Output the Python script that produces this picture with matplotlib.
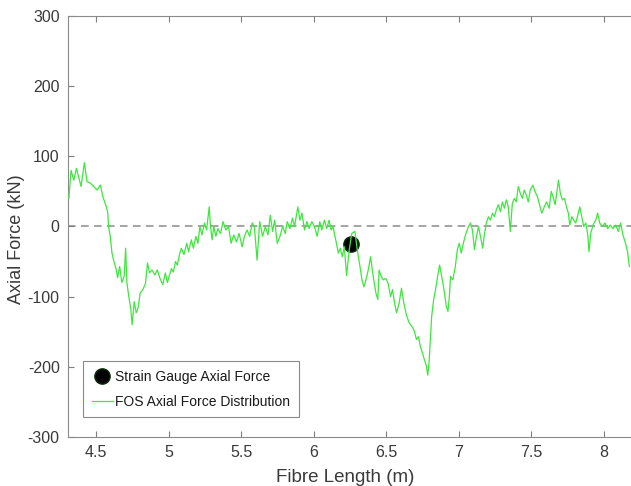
import matplotlib
matplotlib.use("Agg")
import matplotlib.pyplot as plt

# FOS axial force distribution
fos_length = [
    4.313, 4.328, 4.347, 4.365, 4.381, 4.397, 4.420, 4.438, 4.461, 4.484,
    4.507, 4.530, 4.548, 4.571, 4.580, 4.587, 4.598, 4.610, 4.621, 4.640,
    4.649, 4.663, 4.678, 4.694, 4.704, 4.713, 4.726, 4.740, 4.749, 4.763,
    4.777, 4.790, 4.804, 4.823, 4.841, 4.855, 4.869, 4.886, 4.905, 4.923,
    4.941, 4.960, 4.978,
    4.992, 5.005, 5.020, 5.033, 5.048, 5.060, 5.075, 5.088, 5.106, 5.125,
    5.138, 5.157, 5.171, 5.188, 5.202, 5.216, 5.230, 5.248, 5.262, 5.280,
    5.289, 5.300, 5.312, 5.326, 5.339, 5.358, 5.376, 5.394, 5.413, 5.431,
    5.449, 5.468, 5.486, 5.507, 5.523, 5.541, 5.559, 5.576, 5.591, 5.610,
    5.628,
    5.648, 5.667, 5.685, 5.701, 5.717, 5.731, 5.749, 5.768, 5.786, 5.804,
    5.818, 5.836, 5.854, 5.868, 5.891, 5.905, 5.919, 5.937, 5.953, 5.969,
    5.987, 6.005, 6.024, 6.042, 6.056, 6.074, 6.090, 6.106, 6.120, 6.133,
    6.152, 6.170, 6.184, 6.197, 6.211, 6.227, 6.243,
    6.262, 6.284, 6.300, 6.319, 6.333, 6.346, 6.360, 6.376, 6.392, 6.410,
    6.429, 6.442, 6.451, 6.465, 6.479, 6.497, 6.513, 6.530, 6.543, 6.557,
    6.571, 6.589, 6.605, 6.621, 6.639, 6.657, 6.676, 6.694, 6.708, 6.722,
    6.735, 6.749, 6.763, 6.777, 6.786, 6.795, 6.804, 6.813, 6.827, 6.840,
    6.854, 6.868, 6.882, 6.895, 6.914, 6.925, 6.935,
    6.943, 6.959, 6.976, 6.990, 7.003, 7.017, 7.031, 7.049, 7.067, 7.081,
    7.094, 7.108, 7.122, 7.136, 7.149, 7.165, 7.177, 7.190, 7.204, 7.218,
    7.232, 7.245, 7.259, 7.273, 7.287, 7.300, 7.314, 7.328, 7.341, 7.355,
    7.369, 7.383, 7.396, 7.410, 7.424, 7.438, 7.451, 7.465, 7.479, 7.492,
    7.511, 7.525, 7.543,
    7.560, 7.572, 7.589, 7.605, 7.623, 7.637, 7.650, 7.664, 7.678, 7.687,
    7.700, 7.714, 7.728, 7.742, 7.755, 7.765, 7.779, 7.792, 7.806, 7.820,
    7.834, 7.847, 7.861, 7.875, 7.889, 7.897, 7.909, 7.925, 7.943, 7.957,
    7.971, 7.989, 8.007, 8.026, 8.044, 8.062, 8.081, 8.099, 8.115, 8.131,
    8.149, 8.163, 8.175,
]
fos_force = [
    40, 80, 66, 83, 70, 57, 91, 64, 62, 57,
    52, 59, 42, 28, 21, 0, -14, -38, -48, -62,
    -73, -57, -80, -71, -31, -80, -100, -118, -140, -107,
    -123, -116, -95, -90, -81, -52, -66, -62, -69, -62,
    -74, -83, -66,
    -80, -70, -60, -65, -50, -55, -40, -31, -40, -24,
    -36, -19, -31, -14, -24, 0, -12, 5, -5, 28,
    0, -19, 0, -14, -3, -10, 7, -5, 0, -24,
    -12, -22, -10, -29, -14, -5, -14, 5, 0, -48,
    7,
    -14, 0, -12, 16, -7, 9, -24, -14, 0, -10,
    7, -3, 12, 0, 28, 9, 19, -5, 7, -3,
    7, 0, -14, 7, -5, 9, -3, 9, -5, 0,
    -19, -38, -31, -43, -29, -70, -36,
    -10, -7, -33, -57, -76, -86, -76, -62, -43, -71,
    -95, -104, -62, -71, -76, -74, -81, -100, -90, -109,
    -123, -109, -88, -109, -126, -137, -142, -149, -161, -157,
    -171, -180, -190, -199, -212, -194, -161, -128, -104, -90,
    -71, -55, -71, -86, -114, -121, -100,
    -71, -76, -57, -33, -24, -38, -24, -10, 0, 5,
    -5, -33, -14, 0, -14, -31, -10, 5, 14, 9,
    19, 14, 24, 31, 21, 35, 26, 38, 28, -7,
    33, 40, 35, 57, 47, 40, 52, 45, 35, 52,
    59, 50, 42,
    28, 19, 28, 35, 26, 50, 42, 31, 52, 66,
    47, 38, 40, 28, 19, 2, 14, 9, 5, 16,
    28, 14, 0, 5, -12, -36, -10, 2, 9, 19,
    5, 0, 5, -3, 2, -3, 2, -7, 5, -12,
    -24, -36, -57,
]

# strain gauge reading
sg_length = [6.26]
sg_force = [-25]

x_ticks = [4.5, 5, 5.5, 6, 6.5, 7, 7.5, 8]
x_tick_labels = ["4.5", "5", "5.5", "6", "6.5", "7", "7.5", "8"]
y_ticks = [-300, -200, -100, 0, 100, 200, 300]

plt.rcParams['font.family'] = ['Liberation Sans', 'DejaVu Sans']
plt.rcParams['axes.unicode_minus'] = False

fig = plt.figure(figsize=(6.31, 4.86), dpi=100)
ax = fig.add_axes([68 / 631, 49 / 486, 569 / 631, 421 / 486])

ax.axhline(0, color='#8c8c8c', linestyle='--', linewidth=1.1, dashes=(5, 3.5), zorder=1)
ax.plot(sg_length, sg_force, 'o', color='black', markersize=11,
        markeredgecolor='#0a2a0a', label='Strain Gauge Axial Force', zorder=2)
ax.plot(fos_length, fos_force, color='#3ce83c', linewidth=0.9,
        label='FOS Axial Force Distribution', zorder=3)

ax.set_xlim(4.307, 8.228)
ax.set_ylim(-300, 300)
ax.set_xticks(x_ticks)
ax.set_xticklabels(x_tick_labels)
ax.set_yticks(y_ticks)

ax.tick_params(direction='in', top=True, right=True, length=4, width=0.8,
               color='#7f7f7f', labelcolor='#3a3a3a', labelsize=11.5, pad=6)
for side in ax.spines.values():
    side.set_color('#8a8a8a')
    side.set_linewidth(0.8)

ax.set_xlabel('Fibre Length (m)', fontsize=13.5, color='#3a3a3a')
ax.set_ylabel('Axial Force (kN)', fontsize=13, color='#3a3a3a')
ax.xaxis.set_label_coords(0.487, -0.075)
ax.yaxis.set_label_coords(-0.076, 0.47)

leg = ax.legend(loc='lower left', bbox_to_anchor=(0.027, 0.047), borderaxespad=0,
                fontsize=10, fancybox=False, framealpha=1, edgecolor='#8a8a8a',
                handlelength=1.5, handletextpad=0.2, borderpad=0.6, labelspacing=0.8)
leg.get_frame().set_linewidth(0.8)
for t in leg.get_texts():
    t.set_color('#1a1a1a')

fig.savefig('out.png', dpi=100)
